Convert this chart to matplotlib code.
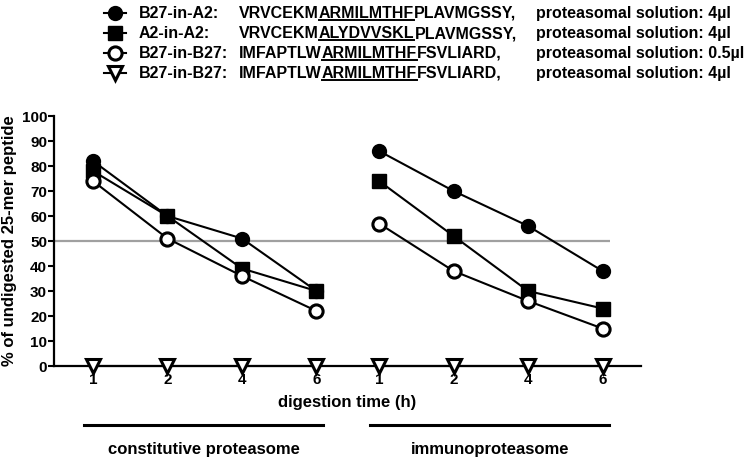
import numpy as np
import matplotlib
matplotlib.use("Agg")
import matplotlib.pyplot as plt
from matplotlib.lines import Line2D
from matplotlib.transforms import blended_transform_factory

plt.rcParams["font.family"] = ["Liberation Sans", "DejaVu Sans"]
plt.rcParams["font.weight"] = "bold"

times = [1, 2, 4, 6]
groups = ["constitutive proteasome", "immunoproteasome"]

# % undigested 25-mer, per group (constitutive, immuno)
b27_a2 = [[82, 60, 51, 30], [86, 70, 56, 38]]
a2_a2 = [[78, 60, 39, 30], [74, 52, 30, 23]]
b27_b27_low = [[74, 51, 36, 22], [57, 38, 26, 15]]
b27_b27_high = [[0, 0, 0, 0], [0, 0, 0, 0]]
half_line = 50

names = ["B27-in-A2:", "A2-in-A2:", "B27-in-B27:", "B27-in-B27:"]
seq_pre = ["VRVCEKM", "VRVCEKM", "IMFAPTLW", "IMFAPTLW"]
seq_epi = ["ARMILMTHF", "ALYDVVSKL", "ARMILMTHF", "ARMILMTHF"]
seq_post = ["PLAVMGSSY,", "PLAVMGSSY,", "FSVLIARD,", "FSVLIARD,"]
doses = ["4µl", "4µl", "0.5µl", "4µl"]

styles = [
    dict(marker="o", ms=9.5, mfc="black", mec="black", mew=1.5),
    dict(marker="s", ms=10.5, mfc="black", mec="black", mew=1),
    dict(marker="o", ms=9.5, mfc="white", mec="black", mew=2.2),
    dict(marker="v", ms=10.5, mfc="white", mec="black", mew=2.2),
]
series = [b27_a2, a2_a2, b27_b27_low, b27_b27_high]

W, H = 751, 465
fig = plt.figure(figsize=(W / 100, H / 100), dpi=100)
ax = fig.add_axes([54 / W, 1 - 366 / H, 587 / W, 250 / H])

group_step = 3.84
positions = [np.arange(len(times)) + g * group_step for g in range(len(groups))]

ax.set_xlim(-0.523, 7.356)
ax.set_ylim(0, 100)

ax.hlines(half_line, -0.523, positions[-1][-1] + 0.1, color="#a0a0a0", lw=1.6, zorder=1)

draw_order = [3, 2, 0, 1]
for k in draw_order:
    for g in range(len(groups)):
        ax.plot(positions[g], series[k][g], color="black", lw=1.5,
                clip_on=False, zorder=3 + k, **styles[k])

ax.spines["top"].set_visible(False)
ax.spines["right"].set_visible(False)
ax.spines["left"].set_linewidth(1.6)
ax.spines["bottom"].set_linewidth(1.6)

ax.set_yticks(np.arange(0, 101, 10))
ax.set_xticks(np.concatenate(positions))
ax.set_xticklabels([str(t) for t in times] * len(groups))
ax.tick_params(axis="y", direction="out", length=4, width=1.5, labelsize=11, pad=1)
ax.tick_params(axis="x", direction="out", length=3, width=1.5, labelsize=11, pad=2)
for lab in ax.get_xticklabels() + ax.get_yticklabels():
    lab.set_fontweight("bold")

ax.set_ylabel("% of undigested 25-mer peptide", fontsize=12, fontweight="bold")
ax.yaxis.set_label_coords(-0.063, 0.5)
ax.set_xlabel("digestion time (h)", fontsize=12, fontweight="bold")
ax.xaxis.set_label_coords(0.5, -0.115)

# group bars below the axis
trans = blended_transform_factory(ax.transData, ax.transAxes)
for g, name in enumerate(groups):
    x0 = positions[g][0] - 0.12
    x1 = positions[g][-1] + 0.09
    ax.add_line(Line2D([x0, x1], [-0.235, -0.235], transform=trans,
                       color="black", lw=2.2, clip_on=False))
    ax.text((x0 + x1) / 2, -0.335, name, transform=trans, ha="center", va="center",
            fontsize=12, fontweight="bold")

# legend at the top, in pixel positions
def fx(px):
    return px / W


def fy(py):
    return 1 - py / H


renderer = fig.canvas.get_renderer()
row_y = [18, 38, 58, 78]
fs = 11.5
for i in range(len(names)):
    y = row_y[i]
    fig.add_artist(Line2D([fx(104), fx(126)], [fy(y - 5), fy(y - 5)], color="black", lw=1.5))
    fig.add_artist(Line2D([fx(115)], [fy(y - 5)], color="black", **styles[i]))
    fig.text(fx(139), fy(y), names[i], fontsize=fs, fontweight="bold", va="baseline")
    t1 = fig.text(fx(239), fy(y), seq_pre[i], fontsize=fs, fontweight="bold", va="baseline")
    bb = t1.get_window_extent(renderer)
    t2 = fig.text(bb.x1 / W, fy(y), seq_epi[i], fontsize=fs, fontweight="bold", va="baseline")
    bb2 = t2.get_window_extent(renderer)
    fig.add_artist(Line2D([bb2.x0 / W, bb2.x1 / W], [fy(y + 2), fy(y + 2)], color="black", lw=1.4))
    fig.text(bb2.x1 / W, fy(y), seq_post[i], fontsize=fs, fontweight="bold", va="baseline")
    fig.text(fx(536), fy(y), "proteasomal solution: " + doses[i], fontsize=fs,
             fontweight="bold", va="baseline")

fig.savefig("out.png", dpi=100)
